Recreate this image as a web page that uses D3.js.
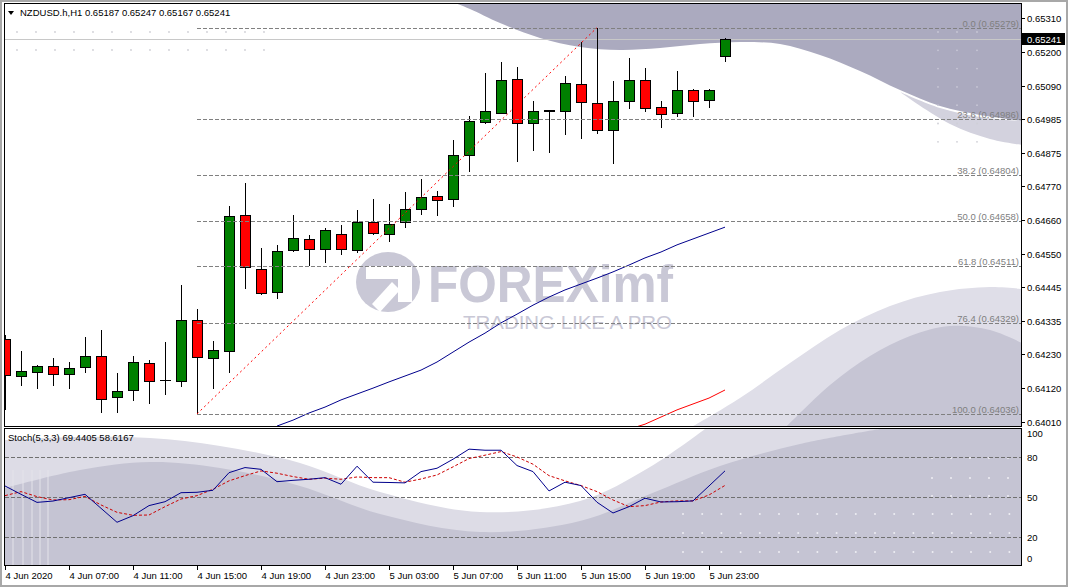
<!DOCTYPE html>
<html><head><meta charset="utf-8">
<script src="https://cdn.jsdelivr.net/npm/d3@7"></script>
<style>
body{margin:0;background:#fff;}
svg{display:block;}
text{font-family:"Liberation Sans",Arial,sans-serif;}
</style>
</head><body>
<svg id="c" width="1069" height="588"></svg>
<script>
// ---------------- DATA ----------------
const symbolTitle = "NZDUSD.h,H1";
const ohlcTitle = "0.65187 0.65247 0.65167 0.65241";
const stochTitle = "Stoch(5,3,3) 69.4405 58.6167";

const openP  = [0.64276,0.64156,0.64170,0.64189,0.64163,0.64186,0.64221,0.64089,0.64112,0.64199,0.64143,0.64141,0.64337,0.64215,0.64237,0.64675,0.64501,0.64427,0.64562,0.64598,0.64566,0.64614,0.64562,0.64653,0.64614,0.64653,0.64694,0.64736,0.64727,0.64868,0.64974,0.65003,0.65113,0.64971,0.65010,0.65010,0.65097,0.65036,0.64949,0.65042,0.65110,0.65023,0.65003,0.65077,0.65045,0.65187];
const highP  = [0.64290,0.64238,0.64193,0.64215,0.64203,0.64283,0.64305,0.64168,0.64221,0.64208,0.64267,0.64451,0.64374,0.64271,0.64705,0.64779,0.64570,0.64579,0.64676,0.64612,0.64633,0.64643,0.64691,0.64727,0.64711,0.64749,0.64791,0.64752,0.64917,0.64994,0.65133,0.65168,0.65152,0.65043,0.65012,0.65123,0.65233,0.65279,0.65106,0.65180,0.65148,0.65042,0.65138,0.65081,0.65081,0.65247];
const lowP   = [0.64049,0.64126,0.64117,0.64126,0.64117,0.64169,0.64040,0.64040,0.64078,0.64069,0.64098,0.64124,0.64036,0.64117,0.64167,0.64439,0.64418,0.64407,0.64556,0.64513,0.64523,0.64546,0.64555,0.64611,0.64588,0.64633,0.64675,0.64672,0.64703,0.64815,0.64970,0.65000,0.64848,0.64883,0.64877,0.64934,0.64920,0.64938,0.64841,0.65018,0.65007,0.64957,0.64990,0.64990,0.65019,0.65167];
const closeP = [0.64160,0.64173,0.64189,0.64163,0.64183,0.64221,0.64083,0.64109,0.64202,0.64141,0.64145,0.64337,0.64218,0.64241,0.64672,0.64508,0.64424,0.64559,0.64601,0.64566,0.64627,0.64566,0.64653,0.64617,0.64646,0.64694,0.64733,0.64723,0.64868,0.64978,0.65010,0.65110,0.64971,0.65010,0.65011,0.65100,0.65039,0.64949,0.65042,0.65110,0.65019,0.65000,0.65077,0.65042,0.65077,0.65241];

const maFastStart = 17;
const maFast = [0.63997,0.64016,0.64039,0.64058,0.64081,0.64100,0.64119,0.64139,0.64158,0.64177,0.64203,0.64235,0.64267,0.64296,0.64329,0.64357,0.64386,0.64412,0.64435,0.64454,0.64473,0.64493,0.64515,0.64538,0.64557,0.64580,0.64599,0.64618,0.64637];
const maSlowStart = 39;
const maSlow = [0.63987,0.64003,0.64026,0.64049,0.64068,0.64087,0.64113];

const stochMain = [58.2,52,46,47,49.5,52,41.6,31.2,36.1,43.6,46.5,53.2,53.5,55,68.1,71.9,70.6,61.4,62.4,63.2,64.4,59.5,72.9,61,60.8,60.5,68.9,71.4,78.1,85.6,84.8,84.8,73.4,68.9,54.5,61,58.5,46.1,38.1,42.8,49.1,46.3,46.5,47.1,58.2,69.44];
const stochSignal = [51,54,50.3,47.8,48,50.5,44.1,38.6,36.4,36.6,42.8,48.5,51,55.8,62,65.9,69.4,67.7,65.2,63.2,64,63.2,64.9,64.4,64.4,61,63.4,66.4,72.4,78.6,81.1,83.8,79.8,74.4,65.9,62,58.5,54,47.8,42.8,43.6,46.3,47.1,47.1,51.5,58.62];

const priceTicks = [0.65310,0.65200,0.65090,0.64985,0.64875,0.64770,0.64660,0.64550,0.64445,0.64335,0.64230,0.64120,0.64010];
const stochTicks = [100,80,50,20,0];
const stochLevels = [80,50,20];
const timeTickIndex = [0,4,8,12,16,20,24,28,32,36,40,44];
const timeTickLabels = ["4 Jun 2020","4 Jun 07:00","4 Jun 11:00","4 Jun 15:00","4 Jun 19:00","4 Jun 23:00","5 Jun 03:00","5 Jun 07:00","5 Jun 11:00","5 Jun 15:00","5 Jun 19:00","5 Jun 23:00"];

const fibRatios = ["0.0","23.6","38.2","50.0","61.8","76.4","100.0"];
const fibLevels = [0.65279,0.64986,0.64804,0.64658,0.64511,0.64329,0.64036];
const fibFromIndex = 12, fibToIndex = 37;
const bidPrice = 0.65241;

// ---------------- LAYOUT ----------------
const L=5, R=1021, mTop=3.5, mBot=426.5, sTop=428.5, sBot=565.5;
const svg = d3.select('#c');
const x = d3.scaleLinear().domain([0,45]).range([5,725]);
const y = d3.scaleLinear().domain([0.64010,0.65310]).range([422,18]);
const ys = d3.scaleLinear().domain([0,100]).range([564.2,429.8]);
const n = openP.length;
const idx = d3.range(n);

const defs = svg.append('defs');
defs.append('clipPath').attr('id','cm').append('rect').attr('x',L).attr('y',mTop+0.5).attr('width',R-L).attr('height',mBot-mTop-0.5);
defs.append('clipPath').attr('id','cs').append('rect').attr('x',L).attr('y',sTop+0.5).attr('width',R-L).attr('height',sBot-sTop-0.5);

// window frame
svg.append('rect').attr('x',1).attr('y',1).attr('width',1066).attr('height',585).attr('fill','#fff').attr('stroke','#a8a8a8').attr('stroke-width',2);

const gm = svg.append('g').attr('clip-path','url(#cm)');
const gs = svg.append('g').attr('clip-path','url(#cs)');
const curve = d3.line().curve(d3.curveCatmullRom);

// ---- decorative watermark backgrounds (main) ----
gm.append('path').attr('fill','#abaabf').attr('d',
  curve([[455,3],[470,9],[500,23],[540,38],[580,47],[620,50],[660,48],[700,44],[740,42],[780,44],[820,55],[860,71],[900,90],[940,106],[980,115],[1022,121]]) + 'L1022,3Z');
gm.append('path').attr('fill','#d3d2de').attr('d',
  curve([[900,92],[940,108],[980,117],[1022,121]]) + 'L1022,145' + curve([[1022,145],[990,139],[950,124],[900,92]]).replace('M','L') + 'Z');
gm.append('path').attr('fill','#dfdee8').attr('d',
  'M690,428' + curve([[690,428],[740,398],[790,363],[840,330],[890,306],[940,292],[990,287],[1022,289]]).replace('M','L') + 'L1022,428Z');
gm.append('path').attr('fill','#c6c5d4').attr('d',
  'M785,428' + curve([[785,428],[830,385],[870,356],[910,336],[950,326],[990,330],[1022,343]]).replace('M','L') + 'L1022,428Z');

// dots
const dotG = gm.append('g');
for (let r of [32,50]) for (let k=0;k<14;k++) dotG.append('circle').attr('cx',17+k*19).attr('cy',r).attr('r',0.9).attr('fill','#cfcfd6');
for (let r=32;r<=160;r+=18.3) for (let cx of [938,957,977]) dotG.append('circle').attr('cx',cx).attr('cy',r).attr('r',0.9).attr('fill', r<110?'#c8c7d6':'#cfcfd6');

// logo watermark
const wm = gm.append('g').attr('fill','#c9c8d6');
wm.append('ellipse').attr('cx',388).attr('cy',282).attr('rx',32).attr('ry',30);
wm.append('path').attr('fill','#fff').attr('d','M366,266 L412,266 L412,302 L398,302 L398,279 L366,279 Z');
wm.append('path').attr('fill','#fff').attr('d','M372,304 L392,282 L400,290 L380,312 Z');
wm.append('text').attr('x',428).attr('y',302).attr('font-size',51).attr('font-weight','bold')
  .attr('textLength',245).attr('lengthAdjust','spacingAndGlyphs').text('FOREXimf');
wm.append('text').attr('x',463).attr('y',329).attr('font-size',19)
  .attr('textLength',209).attr('lengthAdjust','spacingAndGlyphs').text('TRADING LIKE A PRO');

// bid line
gm.append('line').attr('x1',L).attr('x2',R).attr('y1',Math.round(y(bidPrice))+0.5).attr('y2',Math.round(y(bidPrice))+0.5).attr('stroke','#c8c8c8');

// moving averages
const lineP = d3.line().x(d=>x(d[0])).y(d=>y(d[1]));
gm.append('path').attr('fill','none').attr('stroke','#00008c').attr('stroke-width',1)
  .attr('d', lineP(maFast.map((v,i)=>[i+maFastStart,v])));
gm.append('path').attr('fill','none').attr('stroke','#ff0000').attr('stroke-width',1)
  .attr('d', lineP(maSlow.map((v,i)=>[i+maSlowStart,v])));

// candles
const cg = gm.append('g').attr('shape-rendering','crispEdges');
cg.selectAll('line.w').data(idx).join('line')
  .attr('x1',i=>x(i)+0.5).attr('x2',i=>x(i)+0.5)
  .attr('y1',i=>y(highP[i])).attr('y2',i=>y(lowP[i])).attr('stroke','#000');
cg.selectAll('rect.b').data(idx).join('rect')
  .attr('x',i=>x(i)-4.5).attr('width',10)
  .attr('y',i=>y(Math.max(openP[i],closeP[i])))
  .attr('height',i=>Math.max(0.01,Math.abs(y(openP[i])-y(closeP[i]))))
  .attr('fill',i=>closeP[i]>=openP[i]?'#008000':'#ff0000')
  .attr('stroke','#000');

// fibonacci
const fg = gm.append('g');
fibLevels.forEach((lv,k)=>{
  const yy = Math.round(y(lv))+0.5;
  fg.append('line').attr('x1',x(fibFromIndex)).attr('x2',R).attr('y1',yy).attr('y2',yy)
    .attr('stroke','#808080').attr('stroke-dasharray','4,2');
  fg.append('text').attr('x',R-2).attr('y',yy-2).attr('text-anchor','end').attr('font-size',9.5)
    .attr('fill','#808080').text(fibRatios[k]+' ('+lv.toFixed(5)+')');
});
fg.append('line').attr('x1',x(fibFromIndex)).attr('y1',y(lowP[fibFromIndex]))
  .attr('x2',x(fibToIndex)).attr('y2',y(highP[fibToIndex]))
  .attr('stroke','#ff0000').attr('stroke-dasharray','2,3');

// ---- stochastic panel ----
gs.append('rect').attr('x',L).attr('y',sTop).attr('width',R-L).attr('height',sBot-sTop).attr('fill','#c5c4d3');
gs.append('path').attr('fill','#dddce6').attr('d',
  'M5,429 L880,429' + curve([[880,429],[800,444],[720,466],[650,494],[580,521],[480,532],[380,514],[300,486],[220,468],[150,462],[80,470],[5,488]]).replace('M','L') + 'Z');
gs.append('path').attr('fill','#ffffff').attr('d',
  'M5,429 L705,429' + curve([[705,429],[650,467],[580,501],[480,512],[380,492],[300,463],[220,446],[150,438],[80,437],[5,440]]).replace('M','L') + 'Z');
for (let cx of [13,23,32,40,48]) gs.append('line').attr('x1',cx).attr('x2',cx).attr('y1',470).attr('y2',566).attr('stroke','#e4e3ea').attr('stroke-width',1);
const sd = gs.append('g');
for (let r of [514,533,552]) for (let k=0;k<18;k++) sd.append('circle').attr('cx',683+k*19.2).attr('cy',r).attr('r',1).attr('fill','#eeeef3');
for (let r of [458,478,496]) for (let k=0;k<5;k++) sd.append('circle').attr('cx',932+k*19).attr('cy',r).attr('r',1).attr('fill','#eeeef3');

stochLevels.forEach(v=>{
  const yy = Math.round(ys(v))+0.5;
  gs.append('line').attr('x1',L).attr('x2',R).attr('y1',yy).attr('y2',yy).attr('stroke','#707070').attr('stroke-dasharray','4,2');
});
const lineS = d3.line().x((d,i)=>x(i)).y(d=>ys(d));
gs.append('path').attr('fill','none').attr('stroke','#cc0000').attr('stroke-dasharray','3,2').attr('d',lineS(stochSignal));
gs.append('path').attr('fill','none').attr('stroke','#00008c').attr('d',lineS(stochMain));

// ---- frames ----
svg.append('rect').attr('x',4.5).attr('y',mTop).attr('width',R-4.5+0.5).attr('height',mBot-mTop).attr('fill','none').attr('stroke','#000');
svg.append('rect').attr('x',4.5).attr('y',sTop).attr('width',R-4.5+0.5).attr('height',sBot-sTop).attr('fill','none').attr('stroke','#000');

// ---- texts ----
svg.append('path').attr('d','M8,11 L14,11 L11,15 Z').attr('fill','#000');
svg.append('text').attr('x',20).attr('y',16).attr('font-size',9.5).attr('fill','#000')
  .text(symbolTitle+'  '+ohlcTitle);
svg.append('text').attr('x',8).attr('y',441).attr('font-size',9.5).attr('fill','#000').text(stochTitle);

// price axis
const pa = svg.append('g');
priceTicks.forEach(p=>{
  const yy = Math.round(y(p))+0.5;
  pa.append('line').attr('x1',R+0.5).attr('x2',R+4).attr('y1',yy).attr('y2',yy).attr('stroke','#000');
  pa.append('text').attr('x',1027).attr('y',yy+3.5).attr('font-size',9.5).attr('fill','#000').text(p.toFixed(5));
});
const by = Math.round(y(bidPrice));
pa.append('rect').attr('x',1022).attr('y',by-6).attr('width',43).attr('height',12).attr('fill','#000');
pa.append('text').attr('x',1027).attr('y',by+3.5).attr('font-size',9.5).attr('fill','#fff').text(bidPrice.toFixed(5));

// stoch axis
stochTicks.forEach(v=>{
  const yy = Math.round(ys(v))+0.5;
  const ty = v===100? yy+6.5 : (v===0? yy-3 : yy+3.5);
  pa.append('text').attr('x',1027).attr('y',ty).attr('font-size',9.5).attr('fill','#000').text(v);
});

// time axis
timeTickIndex.forEach((ti,k)=>{
  const xx = Math.round(x(ti))+0.5;
  pa.append('line').attr('x1',xx).attr('x2',xx).attr('y1',sBot).attr('y2',sBot+4.5).attr('stroke','#000');
  pa.append('text').attr('x',xx).attr('y',579).attr('font-size',9.5).attr('fill','#000').text(timeTickLabels[k]);
});
</script>
</body></html>
